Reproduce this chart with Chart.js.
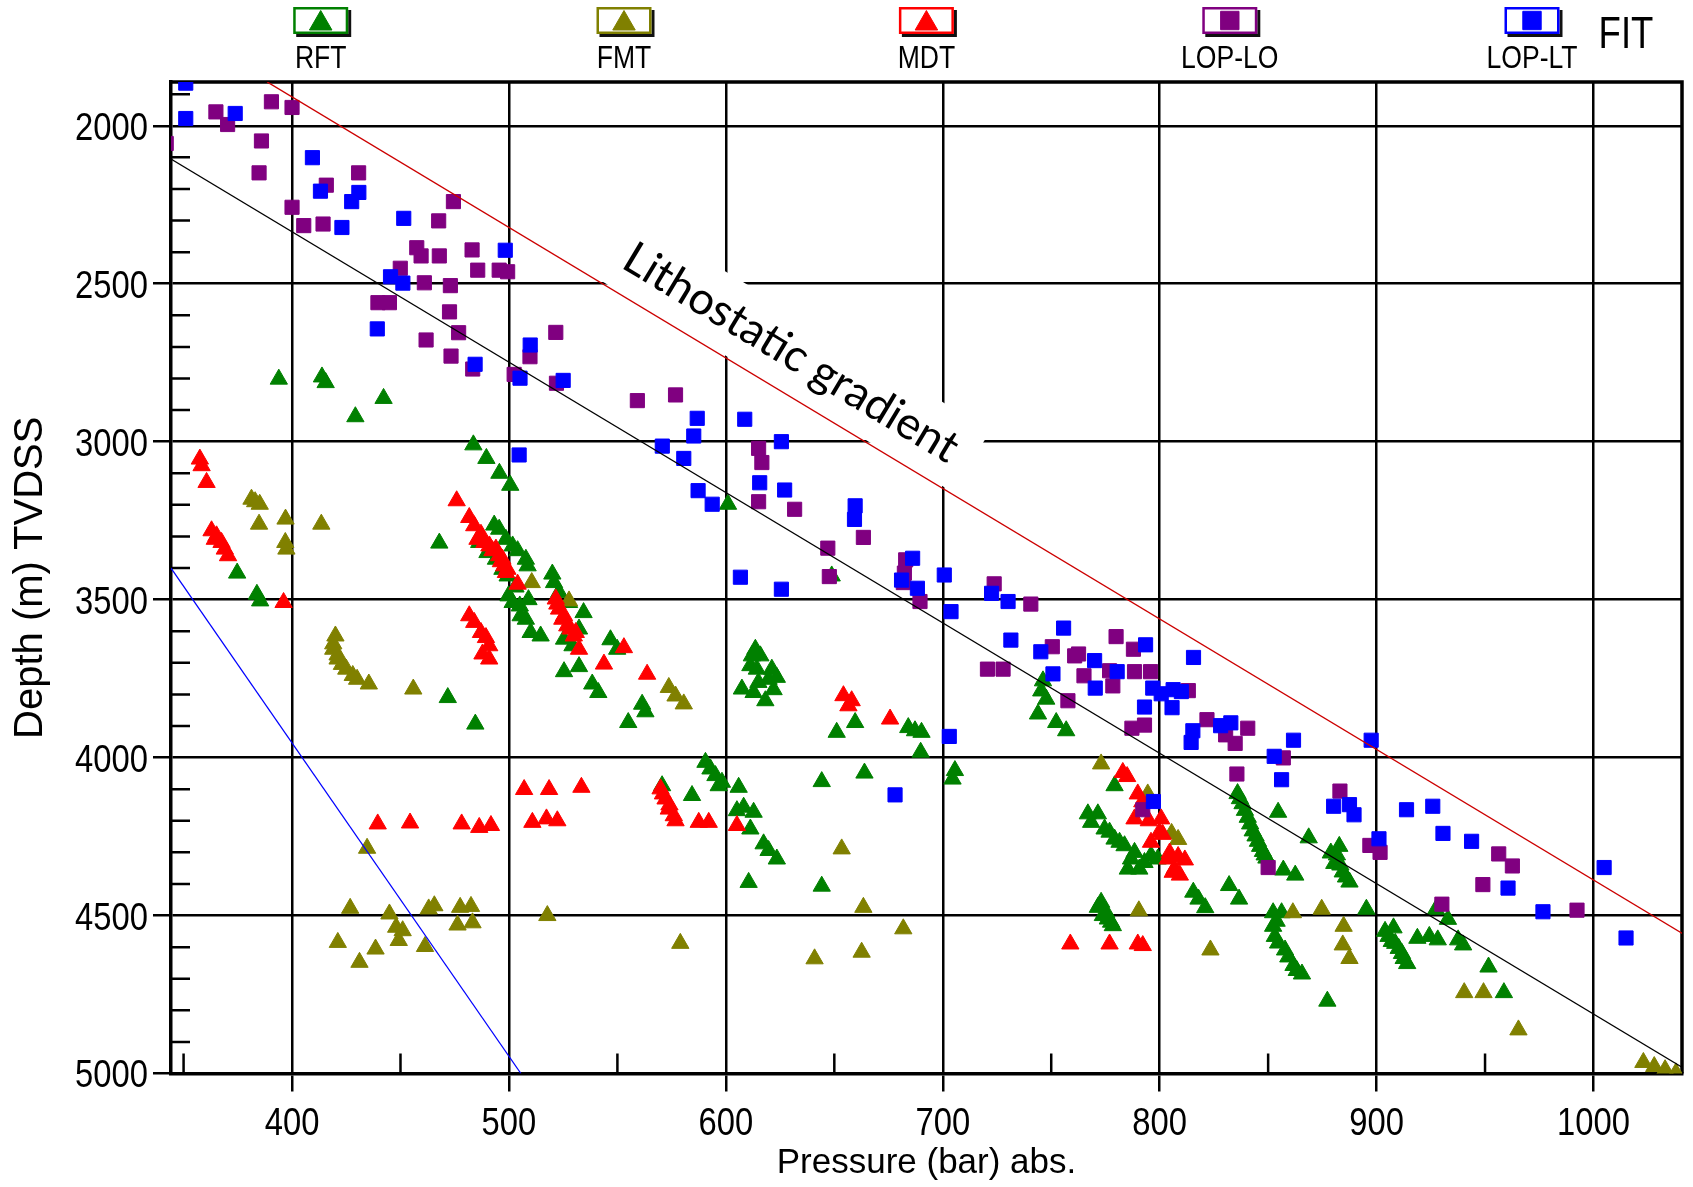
<!DOCTYPE html>
<html>
<head>
<meta charset="utf-8">
<script src="https://cdn.jsdelivr.net/npm/chart.js@4.4.1/dist/chart.umd.min.js"></script>
<style>
  html, body { margin: 0; padding: 0; background: #fff; }
  #wrap { width: 1693px; height: 1187px; }
</style>
</head>
<body>
<div id="wrap"><canvas id="chart" width="1693" height="1187"></canvas></div>
<script>
// [pressure (bar), depth (m TVDSS)]
const rft = [
  [393.9,2802],[413.8,2795],[415.5,2813],[442.2,2863],[429.2,2921],
  [483.6,3010],[489.6,3053],[495.6,3100],[500.6,3138],[467.9,3321],[374.7,3416],[383.8,3483],[385.3,3504],[471.8,3810],[484.5,3894],
  [493.2,3264],[495.5,3277],[498.6,3309],[501.7,3330],[504,3345],[507.8,3372],[508.6,3393],[486.3,3319],[490.1,3351],[494,3372],[497,3404],[499.4,3425],
  [499.8,3488],[501.7,3509],[505.4,3551],[507.8,3562],[510,3604],[514.6,3615],[505,3520],[503,3460],[509,3500],
  [520,3419],[520.8,3446],[523.1,3477],[527.7,3509],[534.4,3541],[532.3,3593],[529.3,3646],[525.4,3625],[525.4,3728],[532.3,3712],[538.4,3767],[541.2,3794],
  [546.8,3627],[549.9,3657],[561.4,3831],[562.9,3855],[555,3889],
  [601,3198],[648.8,3425],[613.6,3657],[615.9,3678],[611.3,3709],[619.7,3752],[623.5,3746],[607.4,3783],[612.8,3794],[618.2,3820],[622,3785],[615,3762],
  [612,3678],[614.3,3720],[621.2,3720],[659.6,3889],[651.1,3920],[684.1,3905],[687.2,3915],[690.2,3920],
  [746.2,3757],[745.4,3789],[747.7,3815],[743.9,3862],[752.3,3889],[756.9,3915],
  [689.8,3983],[590.6,4015],[592.9,4036],[595.2,4057],[598.2,4078],[596.7,4089],[584.4,4120],[605.9,4094],[605.1,4168],[608.2,4157],[612.8,4173],
  [611.3,4226],[617.4,4273],[619.7,4294],[623.5,4321],[610.5,4395],[644.2,4076],[663.9,4049],[644.2,4407],[705.6,4041],[704.5,4068],[570.6,4089],
  [779.2,4089],[766.9,4178],[771.5,4178],[774.6,4226],[779.2,4258],[783.8,4279],[788.4,4300],[785.3,4353],[790.6,4353],[796,4310],
  [768.4,4205],[776.9,4236],[781.5,4268],[786.8,4321],[793,4332],[799.1,4321],
  [773,4458],[775.3,4490],[777.6,4521],[771.5,4474],[773.8,4500],[776.1,4511],[778.4,4532],
  [835.9,4114],[838.2,4146],[840.6,4189],[842.9,4232],[845.3,4265],[847.6,4297],[849.2,4318],[837,4130],[839.3,4167],[841.7,4210],[844.2,4248],[846.3,4281],[848.4,4308],
  [854.6,4173],[868.7,4254],[857,4356],[862.5,4372],[832,4405],[836.6,4448],[815.5,4426],[817.9,4448],[821,4475],
  [852.3,4491],[856.2,4491],[852.3,4534],[853.1,4566],[853.9,4518],[854.6,4587],[857.8,4609],[859.3,4631],[861.7,4658],[863.2,4674],[865.6,4685],[877.3,4771],
  [878.9,4302],[882.8,4281],[880.5,4335],[884.4,4362],[887.5,4394],[881.7,4308],[883.3,4340],[885.9,4378],[895.3,4480],
  [903.9,4550],[907.8,4539],[908.6,4588],[911.7,4620],[914.1,4652],[905.5,4566],[907,4582],[910.2,4604],[912.5,4636],
  [918.8,4572],[924.3,4566],[928.2,4577],[927.4,4480],[932.9,4512],[937.6,4577],[939.9,4593],[951.6,4663],[958.7,4744]
];
const fmt = [
  [381.3,3182],[383,3190],[385.1,3198],[384.8,3261],[397,3245],[413.5,3261],[396.9,3319],[397.4,3340],[510.5,3446],[527.7,3504],
  [420,3615],[419,3640],[419,3657],[421,3675],[421,3688],[423,3705],[425,3720],[428,3740],[430,3752],[435.4,3767],[455.9,3783],
  [573.7,3778],[576.8,3805],[580.6,3830],
  [434.6,4287],[426.8,4477],[444.9,4495],[448,4537],[451,4548],[449.2,4579],[421.1,4585],[438.5,4606],[431.1,4648],[463,4479],[465.6,4469],
  [477.5,4474],[482.5,4471],[476.3,4530],[483.2,4523],[461.3,4598],[517.7,4500],[579,4588],
  [653.4,4289],[663.4,4474],[681.8,4542],[640.9,4637],[662.6,4616],
  [773,4020],[794.5,4115],[805.5,4240],[808.5,4259],[790.4,4485],[823.4,4609],[861.4,4491],[874.7,4480],[884.8,4534],[884.4,4593],[887.5,4636],
  [940.4,4744],[949.3,4744],[965.4,4862],[1023,4965],[1028,4978],[1033,4988],[1038,4998]
];
const mdt = [
  [357.5,3055],[358.3,3076],[360.6,3129],[362.9,3282],[365.2,3298],[367.5,3319],[369,3340],[370.5,3361],[364.4,3309],[396.1,3509],
  [475.9,3187],[481.7,3240],[484,3266],[487.1,3293],[485.5,3309],[494,3340],[497,3372],[499.3,3404],[492.4,3345],[495.5,3361],[497.8,3393],[504,3451],
  [488.7,3319],[491,3330],[496.3,3380],[498.6,3414],
  [521.6,3498],[523.1,3530],[524.6,3562],[526.9,3583],[530.8,3604],[532.3,3657],[522.3,3514],[525.4,3551],[528.4,3593],[529.9,3615],[543.8,3704],[553,3652],[563.7,3736],
  [481.7,3551],[484,3572],[487.1,3604],[489.4,3620],[490.9,3646],[487.8,3672],[490.9,3688],
  [654.2,3804],[656.5,3836],[658,3820],[675.7,3878],
  [439.5,4210],[454.4,4207],[478.2,4210],[486.3,4221],[491.7,4215],[507,4101],[518.5,4101],[533.4,4094],[510.8,4205],[517.3,4194],[522.3,4200],
  [569.9,4099],[571,4115],[572.2,4131],[574,4150],[573.7,4163],[576,4184],[576.8,4200],[587.5,4205],[592.1,4205],[605.1,4215],
  [783,4047],[785,4060],[789.9,4115],[792,4140],[788.4,4194],[795,4200],[796,4268],[799.9,4236],[803.7,4321],[806,4363],
  [800.7,4194],[801.4,4243],[804.6,4302],[808.5,4313],[811.6,4324],[806.9,4351],[809.3,4372],
  [758.8,4590],[776.9,4590],[789.9,4590],[792.2,4595]
];
const lopLo = [
  [342,2056],[364.9,1956],[370.3,1996],[390.5,1924],[400,1942],[385.9,2048],[384.8,2149],[415.8,2188],[430.7,2149],[400,2258],[405.4,2316],[414.3,2311],
  [474.4,2240],[467.6,2301],[457.5,2386],[459.5,2412],[467.9,2412],[483,2393],[485.6,2457],[495.5,2457],[499.4,2462],[449.9,2451],[461,2497],[473,2506],
  [439.6,2560],[444.9,2560],[472.6,2589],[476.8,2655],[461.8,2678],[473.3,2729],[483.3,2770],[502.4,2787],[509.7,2731],[521.6,2654],[521.9,2815],[559.2,2870],[576.8,2852],
  [615.1,3021],[616.6,3066],[615.1,3190],[631.7,3214],[663.4,3303],[647,3337],[647.7,3427],[682.9,3374],[682.3,3416],[681.8,3446],[689.5,3506],
  [723.7,3450],[740.6,3514],[750.5,3649],[760.8,3678],[762.6,3672],[779.9,3617],[787.9,3657],[720.6,3720],[727.8,3720],[765.1,3741],[776.9,3725],
  [788.4,3728],[795.8,3728],[778.4,3773],[757.7,3820],[787.2,3907],[793,3897],
  [813.2,3788],[821.8,3880],[840.6,3907],[830.4,3928],[834.8,3955],[857,4001],[835.6,4052],[883.1,4106],[896.9,4278],[901.6,4300],[850,4348],
  [956.3,4305],[962.6,4343],[949,4402],[930.1,4464],[992.4,4483],[792.2,4165]
];
const lopLt = [
  [351,1865],[351,1977],[373.8,1961],[409.4,2101],[413.1,2207],[423,2322],[427.5,2240],[430.8,2211],[451.5,2293],[498.3,2394],[445.4,2478],[451.1,2498],
  [439.3,2643],[509.8,2694],[484.4,2755],[505.1,2799],[525,2806],[504.7,3042],
  [586.8,2926],[608.7,2929],[570.7,3014],[585.2,2982],[580.6,3053],[625.6,3000],[615.6,3130],[627.1,3153],[587.2,3155],[593.7,3198],[659.6,3203],[659.3,3246],
  [606.7,3429],[625.6,3467],[686.1,3369],[681,3438],[688.3,3464],[700.7,3422],[703.8,3538],[722.5,3480],[730.1,3506],[731.4,3628],[755.7,3590],[745.2,3665],
  [770,3693],[750.8,3735],[770.3,3780],[780.4,3728],[793.5,3643],[793,3840],[796.8,3780],[703,3933],
  [815.6,3683],[806.2,3785],[800.7,3798],[810,3791],[805.7,3842],[815.3,3915],[828.1,3899],[832.8,3890],[861.7,3945],[897.5,3945],[814.5,3952],
  [852.8,3996],[856.2,4070],[880.2,4154],[887.5,4149],[889.6,4181],[913.8,4165],[925.9,4154],[930.6,4240],[943.8,4265],[901.1,4257],
  [960.6,4413],[976.7,4488],[1004.9,4348],[1015,4571],[678,4118],[797.1,4139]
];

// gradient lines (end points)
const lithostatic = [[388.5,1861],[1041,4557]];
const fitLine = [[344.2,2105],[1040.8,4980]];
const hydroLine = [[344.2,3400],[505.5,5000]];

const xTicks = [400,500,600,700,800,900,1000];
const yTicks = [2000,2500,3000,3500,4000,4500,5000];
const xMinor = [350,450,550,650,750,850,950];
const yMinor = [1900,2100,2200,2300,2400,2600,2700,2800,2900,3100,3200,3300,3400,3600,3700,3800,3900,4100,4200,4300,4400,4600,4700,4800,4900];

const labelAnchor = [630, 2719];

const toPts = arr => arr.map(([x, y]) => ({ x, y }));

const series = [
  { label: 'RFT', data: rft, color: '#008000', style: 'triangle' },
  { label: 'FMT', data: fmt, color: '#808000', style: 'triangle' },
  { label: 'MDT', data: mdt, color: '#ff0000', style: 'triangle' },
  { label: 'LOP-LO', data: lopLo, color: '#800080', style: 'rect' },
  { label: 'LOP-LT', data: lopLt, color: '#0000ff', style: 'rect' }
];
const drawOrder = { 'RFT': 5, 'FMT': 4, 'MDT': 3, 'LOP-LO': 2, 'LOP-LT': 1 };

const sansFamily = '"Liberation Sans", Arial, sans-serif';

// condensed-looking text: regular sans squeezed horizontally
function narrowText(ctx, text, x, y, size, squeeze, align) {
  ctx.save();
  ctx.translate(x, y);
  ctx.scale(squeeze, 1);
  ctx.font = size + 'px ' + sansFamily;
  ctx.textAlign = align;
  ctx.textBaseline = 'alphabetic';
  ctx.fillStyle = '#000';
  ctx.fillText(text, 0, 0);
  ctx.restore();
}

const pointSets = series.map(s => ({
  label: s.label,
  data: toPts(s.data),
  showLine: false,
  pointStyle: s.style,
  pointRadius: 10,
  pointHoverRadius: 10,
  backgroundColor: s.color,
  borderColor: s.color,
  borderWidth: 1,
  order: drawOrder[s.label]
}));

const lineSet = (pts, color) => ({
  label: '',
  data: toPts(pts),
  showLine: true,
  pointRadius: 0,
  borderColor: color,
  borderWidth: 1.3,
  fill: false,
  order: 0
});

const framePlugin = {
  id: 'frame',
  beforeDatasetsDraw(chart) {
    const { ctx, chartArea: a, scales: { x, y } } = chart;
    ctx.save();
    ctx.strokeStyle = '#000';
    ctx.lineWidth = 2.5;
    ctx.beginPath();
    yMinor.forEach(v => {
      const py = y.getPixelForValue(v);
      ctx.moveTo(a.left, py); ctx.lineTo(a.left + 19, py);
    });
    xMinor.forEach(v => {
      const px = x.getPixelForValue(v);
      ctx.moveTo(px, a.bottom); ctx.lineTo(px, a.bottom - 20);
    });
    ctx.stroke();
    ctx.lineWidth = 3.5;
    ctx.beginPath();
    ctx.moveTo(a.left, a.top); ctx.lineTo(a.right, a.top); ctx.lineTo(a.right, a.bottom);
    ctx.stroke();

    // label along the lithostatic line, on a white band
    const x1 = x.getPixelForValue(lithostatic[0][0]), y1 = y.getPixelForValue(lithostatic[0][1]);
    const x2 = x.getPixelForValue(lithostatic[1][0]), y2 = y.getPixelForValue(lithostatic[1][1]);
    const ang = Math.atan2(y2 - y1, x2 - x1);
    const cx = x.getPixelForValue(labelAnchor[0]), cy = y.getPixelForValue(labelAnchor[1]);
    const text = 'Lithostatic gradient';
    ctx.font = '40px Lato, "Open Sans", sans-serif';
    const size = 40 * 382 / ctx.measureText(text).width;
    ctx.translate(cx, cy);
    ctx.rotate(ang);
    ctx.fillStyle = '#fff';
    ctx.fillRect(-211, -36, 422, 72);
    ctx.font = size.toFixed(1) + 'px Lato, "Open Sans", sans-serif';
    ctx.fillStyle = '#000';
    ctx.textAlign = 'center';
    ctx.textBaseline = 'middle';
    ctx.fillText(text, 0, 0);
    ctx.restore();
  }
};

// tick labels drawn at the scale's own tick positions
const tickLabelPlugin = {
  id: 'tickLabels',
  afterDraw(chart) {
    const { ctx, scales: { x, y } } = chart;
    const size = 39, cap = size * 0.716;
    x.ticks.forEach(t => {
      narrowText(ctx, String(t.value), x.getPixelForValue(t.value), 1121 + cap / 2, size, 0.84, 'center');
    });
    y.ticks.forEach(t => {
      narrowText(ctx, String(t.value), 148, y.getPixelForValue(t.value) + cap / 2, size, 0.84, 'right');
    });
  }
};

const legendCenters = [320.7, 624, 926.4, 1229.8, 1532];
const legendPlugin = {
  id: 'boxLegend',
  afterDraw(chart) {
    const ctx = chart.ctx;
    ctx.save();
    series.forEach((s, i) => {
      const cx = legendCenters[i], top = 7, w = 55, h = 27;
      const x0 = cx - w / 2;
      ctx.fillStyle = '#111';
      ctx.fillRect(x0 + 3, top + 3, w, h);
      ctx.fillStyle = '#fff';
      ctx.fillRect(x0, top, w, h);
      ctx.strokeStyle = s.color;
      ctx.lineWidth = 2.5;
      ctx.strokeRect(x0 + 1.25, top + 1.25, w - 2.5, h - 2.5);
      ctx.fillStyle = s.color;
      ctx.lineWidth = 1;
      const tri = s.style === 'triangle';
      Chart.helpers.drawPoint(ctx, { pointStyle: s.style, radius: 13, rotation: 0, borderWidth: 1 },
        cx, top + h / 2 + (tri ? 3 : 0));
      narrowText(ctx, s.label, cx, 68, 32, 0.83, 'center');
    });
    narrowText(ctx, 'FIT', 1626, 48, 44, 0.83, 'center');
    ctx.restore();
  }
};

new Chart(document.getElementById('chart').getContext('2d'), {
  type: 'scatter',
  data: {
    datasets: [
      lineSet(lithostatic, '#cc0000'),
      lineSet(fitLine, '#000000'),
      lineSet(hydroLine, '#0000ff'),
      ...pointSets
    ]
  },
  options: {
    responsive: false,
    devicePixelRatio: 1,
    animation: false,
    layout: { padding: { top: 82, right: 8, left: 0, bottom: 0 } },
    plugins: {
      legend: { display: false },
      tooltip: { enabled: false }
    },
    scales: {
      x: {
        type: 'linear',
        min: 344.2,
        max: 1040.8,
        afterBuildTicks: s => { s.ticks = xTicks.map(v => ({ value: v })); },
        afterFit: s => { s.height = 113.5; },
        grid: { color: '#000', lineWidth: 2.5, tickLength: 18, drawTicks: true },
        border: { display: true, color: '#000', width: 3.5 },
        ticks: { color: 'rgba(0,0,0,0)', font: { family: sansFamily, size: 32 }, padding: 6, maxRotation: 0, autoSkip: false },
        title: {
          display: true, text: 'Pressure (bar) abs.', color: '#000',
          font: { family: sansFamily, size: 35 },
          padding: { top: 0, bottom: 3 }
        }
      },
      y: {
        type: 'linear',
        reverse: true,
        min: 1861.4,
        max: 5000,
        afterBuildTicks: s => { s.ticks = yTicks.map(v => ({ value: v })); },
        afterFit: s => { s.width = 171; },
        grid: { color: '#000', lineWidth: 2.5, tickLength: 18, drawTicks: true },
        border: { display: true, color: '#000', width: 3.5 },
        ticks: { color: 'rgba(0,0,0,0)', font: { family: sansFamily, size: 32 }, padding: 5, autoSkip: false },
        title: {
          display: true, text: 'Depth (m) TVDSS', color: '#000',
          font: { family: sansFamily, size: 40 },
          padding: { top: 7, bottom: 0 }
        }
      }
    }
  },
  plugins: [framePlugin, tickLabelPlugin, legendPlugin]
});
</script>
</body>
</html>
